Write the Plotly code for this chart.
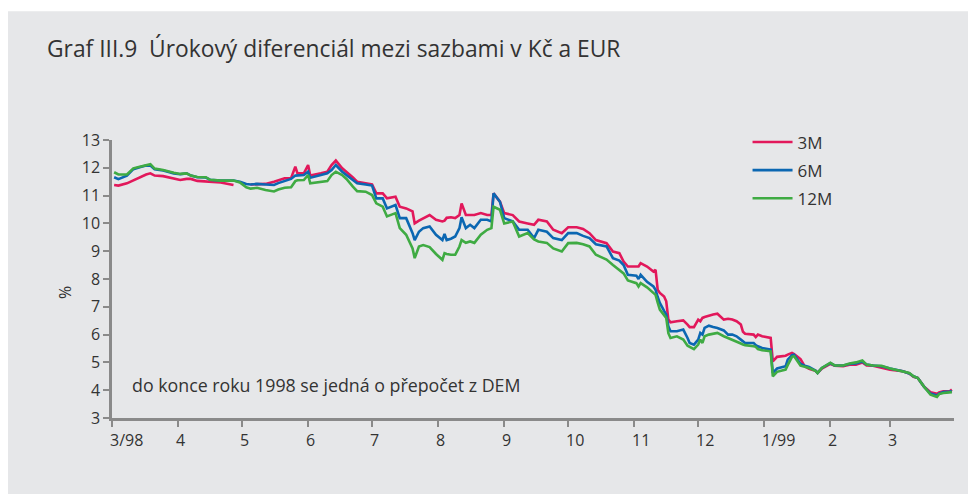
import plotly.graph_objects as go

dates = [
    "1998-03-02", "1998-03-04", "1998-03-08", "1998-03-11", "1998-03-14", "1998-03-17", "1998-03-19",
    "1998-03-21", "1998-03-25", "1998-03-30", "1998-04-02", "1998-04-05", "1998-04-07", "1998-04-10",
    "1998-04-14", "1998-04-16", "1998-04-21", "1998-04-27", "1998-04-30", "1998-05-03", "1998-05-05",
    "1998-05-08", "1998-05-12", "1998-05-16", "1998-05-18", "1998-05-21", "1998-05-24", "1998-05-26",
    "1998-05-27", "1998-05-30", "1998-06-01", "1998-06-02", "1998-06-07", "1998-06-10", "1998-06-12",
    "1998-06-14", "1998-06-17", "1998-06-19", "1998-06-22", "1998-06-24", "1998-06-28", "1998-07-01",
    "1998-07-03", "1998-07-06", "1998-07-08", "1998-07-12", "1998-07-14", "1998-07-17", "1998-07-20",
    "1998-07-21", "1998-07-23", "1998-07-25", "1998-07-28", "1998-07-31", "1998-08-03", "1998-08-04",
    "1998-08-05", "1998-08-07", "1998-08-09", "1998-08-11", "1998-08-12", "1998-08-14", "1998-08-16",
    "1998-08-18", "1998-08-21", "1998-08-24", "1998-08-26", "1998-08-27", "1998-08-30", "1998-09-01",
    "1998-09-05", "1998-09-08", "1998-09-12", "1998-09-15", "1998-09-17", "1998-09-21", "1998-09-24",
    "1998-09-28", "1998-10-01", "1998-10-05", "1998-10-08", "1998-10-11", "1998-10-14", "1998-10-17",
    "1998-10-19", "1998-10-22", "1998-10-25", "1998-10-27", "1998-10-29", "1998-11-02", "1998-11-03",
    "1998-11-04", "1998-11-07", "1998-11-10", "1998-11-11", "1998-11-12", "1998-11-13", "1998-11-15",
    "1998-11-16", "1998-11-17", "1998-11-18", "1998-11-21", "1998-11-24", "1998-11-26", "1998-11-27",
    "1998-11-29", "1998-12-01", "1998-12-02", "1998-12-03", "1998-12-04", "1998-12-06", "1998-12-08",
    "1998-12-10", "1998-12-13", "1998-12-15", "1998-12-17", "1998-12-19", "1998-12-21", "1998-12-22",
    "1998-12-23", "1998-12-27", "1998-12-28", "1998-12-29", "1998-12-31", "1999-01-04", "1999-01-05",
    "1999-01-07", "1999-01-11", "1999-01-12", "1999-01-14", "1999-01-15", "1999-01-17", "1999-01-18",
    "1999-01-20", "1999-01-22", "1999-01-25", "1999-01-26", "1999-01-28", "1999-02-01", "1999-02-03",
    "1999-02-07", "1999-02-10", "1999-02-13", "1999-02-16", "1999-02-18", "1999-02-21", "1999-02-25",
    "1999-03-01", "1999-03-07", "1999-03-10", "1999-03-12", "1999-03-14", "1999-03-17", "1999-03-20",
    "1999-03-23", "1999-03-24", "1999-03-26", "1999-03-29", "1999-03-30",
]

rate_3m = [
    11.38, 11.36, 11.44, 11.55, 11.68, 11.76, 11.80,
    11.72, 11.70, 11.60, 11.56, 11.60, 11.60, 11.53,
    11.50, 11.50, 11.47, 11.38, None, None, 11.40,
    11.42, 11.42, 11.50, 11.55, 11.62, 11.63, 12.04,
    11.80, 11.80, 12.10, 11.72, 11.80, 11.86, 12.10,
    12.26, 11.98, 11.86, 11.65, 11.50, 11.44, 11.40,
    11.08, 11.08, 10.90, 10.96, 10.60, 10.54, 10.43,
    10.00, 10.10, 10.19, 10.30, 10.13, 10.07, 10.10,
    10.20, 10.22, 10.19, 10.30, 10.72, 10.30, 10.30,
    10.30, 10.37, 10.30, 10.30, 11.08, 10.78, 10.37,
    10.30, 10.07, 10.00, 9.95, 10.13, 10.07, 9.77,
    9.65, 9.86, 9.86, 9.80, 9.65, 9.40, 9.35,
    9.29, 8.99, 8.93, 8.63, 8.45, 8.45, 8.45,
    8.57, 8.45, 8.27, 8.33, 7.61, 7.50, 7.37,
    7.20, 6.54, 6.44, 6.48, 6.51, 6.36, 6.27,
    6.27, 6.54, 6.48, 6.60, 6.63, 6.68, 6.72,
    6.75, 6.54, 6.57, 6.54, 6.48, 6.36, 6.10,
    6.03, 6.00, 5.91, 6.00, 5.94, 5.88, 5.04,
    5.20, 5.24, 5.28, 5.34, 5.30, 5.20, 5.12,
    4.86, 4.77, 4.70, 4.62, 4.78, 4.95, 4.88,
    4.86, 4.92, 4.92, 5.00, 4.89, 4.88, 4.80,
    4.74, 4.68, 4.60, 4.48, 4.44, 4.12, 3.93,
    3.87, 3.92, 3.96, 3.96, 4.02,
]

rate_6m = [
    11.66, 11.59, 11.72, 11.95, 12.02, 12.08, 12.08,
    11.95, 11.90, 11.80, 11.77, 11.80, 11.72, 11.66,
    11.65, 11.57, 11.54, 11.54, 11.50, 11.42, 11.40,
    11.42, 11.40, 11.38, 11.45, 11.53, 11.60, 11.72,
    11.72, 11.74, 11.86, 11.64, 11.74, 11.80, 11.92,
    12.10, 11.86, 11.74, 11.55, 11.44, 11.40, 11.36,
    10.90, 10.90, 10.54, 10.66, 10.19, 10.19, 9.65,
    9.40, 9.70, 9.83, 9.89, 9.59, 9.40, 9.62,
    9.40, 9.45, 9.53, 9.83, 10.22, 9.83, 9.95,
    9.83, 10.13, 10.13, 10.07, 11.08, 10.78, 10.19,
    10.07, 9.77, 9.77, 9.47, 9.77, 9.70, 9.47,
    9.40, 9.65, 9.65, 9.55, 9.47, 9.25, 9.20,
    9.17, 8.75, 8.66, 8.50, 8.15, 8.12, 8.00,
    8.15, 7.90, 7.73, 7.61, 7.35, 7.14, 6.85,
    6.72, 6.30, 6.12, 6.12, 6.18, 5.88, 5.70,
    5.64, 5.82, 6.06, 6.00, 6.24, 6.32, 6.27,
    6.24, 6.15, 6.00, 6.00, 5.94, 5.82, 5.75,
    5.70, 5.70, 5.62, 5.58, 5.52, 5.46, 4.62,
    4.78, 4.86, 5.10, 5.26, 5.28, 5.04, 4.94,
    4.88, 4.84, 4.71, 4.62, 4.80, 4.97, 4.89,
    4.89, 4.94, 4.96, 5.03, 4.92, 4.89, 4.86,
    4.78, 4.68, 4.60, 4.50, 4.44, 4.12, 3.88,
    3.81, 3.88, 3.93, 3.95, 3.97,
]

rate_12m = [
    11.84, 11.76, 11.76, 11.98, 12.04, 12.10, 12.13,
    11.97, 11.92, 11.82, 11.78, 11.80, 11.72, 11.67,
    11.66, 11.57, 11.54, 11.54, 11.47, 11.30, 11.25,
    11.28, 11.20, 11.15, 11.22, 11.28, 11.30, 11.52,
    11.55, 11.56, 11.74, 11.44, 11.50, 11.52, 11.74,
    11.86, 11.74, 11.60, 11.32, 11.16, 11.14, 11.02,
    10.72, 10.60, 10.25, 10.37, 9.83, 9.59, 9.10,
    8.75, 9.17, 9.22, 9.15, 8.90, 8.69, 8.93,
    8.90, 8.87, 8.87, 9.17, 9.40, 9.30, 9.35,
    9.30, 9.59, 9.77, 9.83, 10.60, 10.49, 10.00,
    10.07, 9.53, 9.65, 9.42, 9.35, 9.30, 9.10,
    8.99, 9.29, 9.30, 9.25, 9.17, 8.87, 8.78,
    8.70, 8.50, 8.33, 8.20, 7.95, 7.85, 7.73,
    7.85, 7.70, 7.50, 7.43, 7.15, 6.90, 6.70,
    6.60, 6.05, 5.88, 5.94, 5.82, 5.60, 5.55,
    5.48, 5.64, 5.82, 5.70, 5.94, 6.00, 6.03,
    6.06, 5.94, 5.88, 5.82, 5.76, 5.68, 5.64,
    5.62, 5.58, 5.56, 5.48, 5.44, 5.40, 4.50,
    4.66, 4.74, 4.90, 5.20, 5.22, 4.98, 4.88,
    4.84, 4.80, 4.70, 4.62, 4.80, 4.99, 4.89,
    4.89, 4.96, 5.00, 5.07, 4.92, 4.89, 4.88,
    4.78, 4.68, 4.62, 4.50, 4.44, 4.12, 3.84,
    3.76, 3.86, 3.90, 3.92, 3.93,
]

series_names = ["3M", "6M", "12M"]
series_colors = ["#e2185b", "#0b67b2", "#3fab43"]

tick_dates = ["1998-03-01", "1998-04-01", "1998-05-01", "1998-06-01", "1998-07-01", "1998-08-01",
              "1998-09-01", "1998-10-01", "1998-11-01", "1998-12-01", "1999-01-01", "1999-02-01",
              "1999-03-01"]
tick_labels = ["3/98", "4", "5", "6", "7", "8", "9", "10", "11", "12", "1/99", "2", "3"]
y_ticks = list(range(3, 14))

title_text = "Graf III.9  Úrokový diferenciál mezi sazbami v Kč a EUR"
note_text = "do konce roku 1998 se jedná o přepočet z DEM"

FONT = "Open Sans"
TXT = "#333333"
AX = "#8a8a8a"
W, H = 968, 486

fig = go.Figure()
for i, (name, vals) in enumerate(zip(series_names, [rate_3m, rate_6m, rate_12m])):
    fig.add_trace(go.Scatter(
        x=dates, y=vals, mode="lines", name=name, legendgroup=name,
        line=dict(color=series_colors[i], width=2.6), connectgaps=False,
    ))

annotations = []
for d, lab in zip(tick_dates, tick_labels):
    annotations.append(dict(
        x=d, y=0, xref="x", yref="paper", text=lab, showarrow=False,
        xanchor="left", yanchor="top", xshift=-4, yshift=-9,
        font=dict(family=FONT, size=16, color=TXT),
    ))
annotations.append(dict(
    x=0, y=0.45, xref="paper", yref="paper", text="%", showarrow=False,
    textangle=-90, xanchor="center", yanchor="middle", xshift=-47,
    font=dict(family=FONT, size=16, color=TXT),
))
annotations.append(dict(
    x=0.0214, y=0.12, xref="paper", yref="paper", text=note_text, showarrow=False,
    xanchor="left", yanchor="middle", font=dict(family=FONT, size=17.8, color=TXT),
))

fig.update_layout(
    width=W, height=H,
    margin=dict(l=104, r=22, t=132, b=75.5),
    paper_bgcolor="white",
    plot_bgcolor="rgba(0,0,0,0)",
    title=dict(text=title_text, x=39 / W, xref="container", xanchor="left",
               y=1 - 41 / H, yref="container", yanchor="middle",
               font=dict(family=FONT, size=22.8, color=TXT)),
    showlegend=True,
    legend=dict(x=0.7548, y=1.056, xanchor="left", yanchor="top",
                bgcolor="rgba(0,0,0,0)", traceorder="grouped", tracegroupgap=3,
                itemwidth=40,
                font=dict(family=FONT, size=17, color=TXT)),
    shapes=[dict(type="rect", xref="paper", yref="paper",
                 x0=-0.13, x1=1.05, y0=-0.35, y1=1.4632,
                 fillcolor="#e6e7e9", line=dict(width=0), layer="below")],
    annotations=annotations,
    xaxis=dict(type="date", range=["1998-03-01", "1999-03-31"],
               tickmode="array", tickvals=tick_dates, showticklabels=False,
               ticks="outside", ticklen=6, tickwidth=2, tickcolor=AX,
               showline=True, linecolor=AX, linewidth=2.5,
               showgrid=False, zeroline=False),
    yaxis=dict(range=[3, 13], tickmode="array", tickvals=y_ticks,
               ticks="outside", ticklen=6, tickwidth=2, tickcolor=AX,
               showline=True, linecolor=AX, linewidth=2.5,
               showgrid=False, zeroline=False,
               tickfont=dict(family=FONT, size=16, color=TXT)),
)

fig.write_html("out.html")
